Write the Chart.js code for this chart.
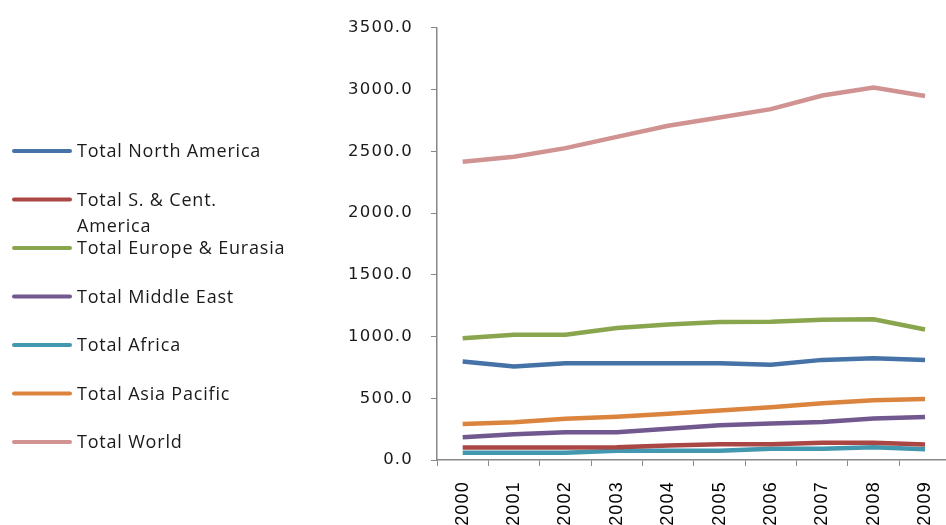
<!DOCTYPE html>
<html>
<head>
<meta charset="utf-8">
<script src="https://cdn.jsdelivr.net/npm/chart.js@4/dist/chart.umd.min.js"></script>
<style>
  html, body { margin: 0; padding: 0; background: #fff; overflow: hidden; }
  canvas { display: block; }
</style>
</head>
<body>
<canvas id="gasChart" width="962" height="525"></canvas>
<script>
// consumo gas per regione, 2000-2009
const years = ['2000','2001','2002','2003','2004','2005','2006','2007','2008','2009'];
const northAmerica = [797, 757, 784, 784, 784, 784, 771, 811, 824, 811];
const southCentAmerica = [102, 102, 102, 104, 118, 128, 128, 139, 139, 126];
const europeEurasia = [987, 1014, 1014, 1070, 1097, 1118, 1120, 1137, 1140, 1057];
const middleEast = [185, 209, 225, 225, 254, 281, 295, 308, 337, 348];
const africa = [59, 59, 59, 75, 75, 75, 91, 91, 104, 88];
const asiaPacific = [291, 305, 335, 351, 375, 401, 428, 460, 484, 495];
const world = [2416, 2457, 2526, 2617, 2708, 2775, 2842, 2952, 3018, 2949];

const labels = ['Total North America', 'Total S. & Cent. America', 'Total Europe & Eurasia',
  'Total Middle East', 'Total Africa', 'Total Asia Pacific', 'Total World'];
const colori = ['#4572a7', '#aa4643', '#89a54e', '#71588f', '#4198af', '#db843d', '#d09392'];
const serie = [northAmerica, southCentAmerica, europeEurasia, middleEast, africa, asiaPacific, world];

const datasets = serie.map((valori, i) => ({
  label: labels[i],
  data: valori,
  borderColor: colori[i],
  backgroundColor: colori[i],
  borderWidth: 4.5,
  pointRadius: 0,
  fill: false,
  tension: 0
}));

// spaziatura lettere per le etichette degli assi
const spaziatura = {
  id: 'spaziatura',
  beforeDraw(chart) { chart.ctx.letterSpacing = '1.2px'; },
  beforeDatasetsDraw(chart) { chart.ctx.letterSpacing = '0px'; }
};

// legenda disegnata a mano sul lato sinistro
const legendaSinistra = {
  id: 'legendaSinistra',
  afterDraw(chart) {
    const ctx = chart.ctx;
    ctx.save();
    ctx.font = '18px "Open Sans"';
    ctx.letterSpacing = '0.8px';
    ctx.textBaseline = 'middle';
    ctx.lineCap = 'round';
    const y0 = 151, passo = 48.5, maxW = 215;
    chart.data.datasets.forEach((ds, i) => {
      const y = y0 + i * passo;
      ctx.strokeStyle = ds.borderColor;
      ctx.lineWidth = 4;
      ctx.beginPath();
      ctx.moveTo(14, y);
      ctx.lineTo(70, y);
      ctx.stroke();
      ctx.fillStyle = '#1a1a1a';
      // a capo se il testo e' troppo lungo
      const parole = ds.label.split(' ');
      let riga = '', righe = [];
      parole.forEach(p => {
        const prova = riga ? riga + ' ' + p : p;
        if (ctx.measureText(prova).width > maxW && riga) { righe.push(riga); riga = p; }
        else riga = prova;
      });
      righe.push(riga);
      righe.forEach((r, k) => ctx.fillText(r, 77, y + 1 + k * 26));
    });
    ctx.restore();
  }
};

const ctx = document.getElementById('gasChart').getContext('2d');
const chart = new Chart(ctx, {
  type: 'line',
  data: { labels: years, datasets: datasets },
  plugins: [spaziatura, legendaSinistra],
  options: {
    responsive: false,
    animation: false,
    layout: { padding: { top: 12, right: 7, left: 0, bottom: 0 } },
    plugins: { legend: { display: false }, tooltip: { enabled: false } },
    scales: {
      x: {
        offset: true,
        grid: { offset: true, drawOnChartArea: false, color: '#888', tickLength: 6 },
        border: { color: '#888', width: 1.5 },
        ticks: { minRotation: 90, maxRotation: 90, padding: 15, color: '#000',
                 font: { family: 'Liberation Sans', size: 18 } },
        afterFit(scale) { scale.height = 65; }
      },
      y: {
        min: 0,
        max: 3500,
        ticks: { stepSize: 500, padding: 18, color: '#1a1a1a',
                 font: { family: 'DejaVu Sans', size: 16.5 },
                 callback: v => v.toFixed(1) },
        grid: { drawOnChartArea: false, color: '#888', tickLength: 6 },
        border: { color: '#888', width: 1.5 },
        afterFit(scale) { scale.width = 437; }
      }
    }
  }
});
</script>
</body>
</html>
